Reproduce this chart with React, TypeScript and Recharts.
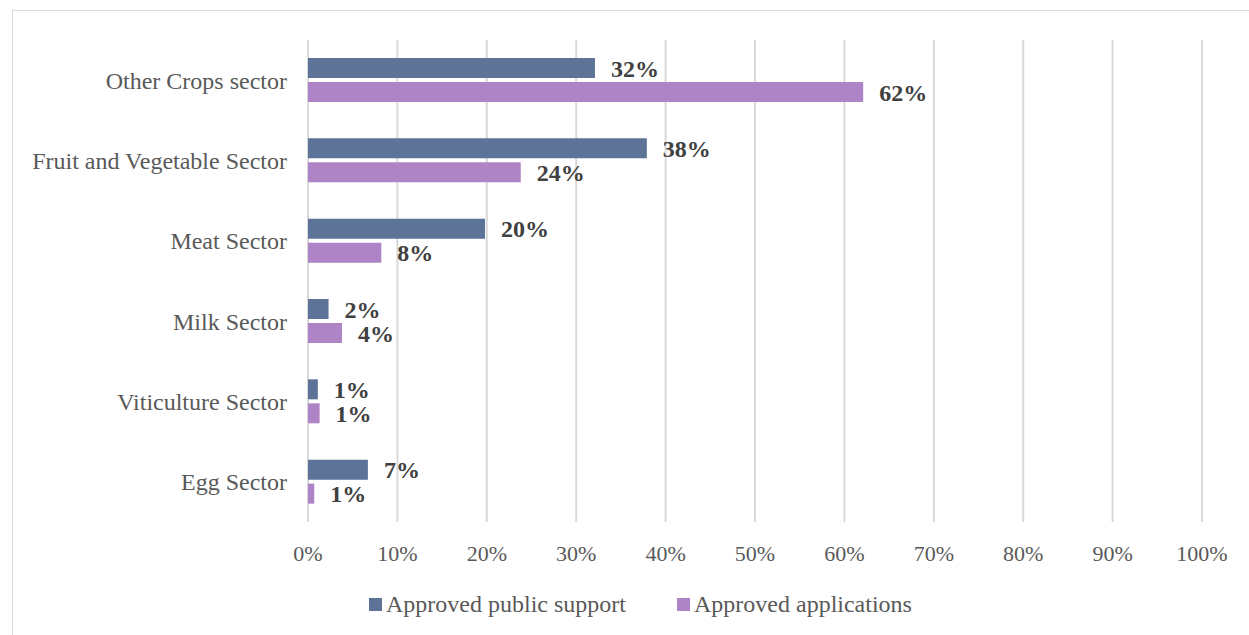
import { BarChart, Bar, XAxis, YAxis, CartesianGrid, Legend, LabelList } from "recharts";

const sectors = [
  "Other Crops sector",
  "Fruit and Vegetable Sector",
  "Meat Sector",
  "Milk Sector",
  "Viticulture Sector",
  "Egg Sector",
];
const publicSupport = [32.1, 37.9, 19.8, 2.3, 1.1, 6.7];
const applications = [62.1, 23.8, 8.2, 3.8, 1.3, 0.7];
const xTicks = [0, 10, 20, 30, 40, 50, 60, 70, 80, 90, 100];

const SERIES = [
  { key: "support", name: "Approved public support", color: "#5E7398" },
  { key: "applications", name: "Approved applications", color: "#AF84C6" },
];

const FONT = '"Liberation Serif", "Times New Roman", serif';

const data = sectors.map((name, i) => ({
  name,
  support: publicSupport[i],
  applications: applications[i],
}));

const pct = (v: number) => `${Math.round(v)}%`;

function LegendBox() {
  return (
    <div
      style={{
        display: "flex",
        justifyContent: "center",
        alignItems: "center",
        height: 18,
        fontFamily: FONT,
        fontSize: 24,
        color: "#595959",
        gap: 51,
      }}
    >
      {SERIES.map((s) => (
        <div key={s.key} style={{ display: "flex", alignItems: "center", gap: 4 }}>
          <span style={{ width: 13, height: 13, background: s.color, display: "inline-block" }} />
          <span style={{ lineHeight: "18px" }}>{s.name}</span>
        </div>
      ))}
    </div>
  );
}

export default function App() {
  return (
    <div
      style={{
        position: "absolute",
        left: 0,
        top: 0,
        width: 1249,
        height: 635,
        overflow: "hidden",
        background: "#fff",
      }}
    >
      {/* chart frame, wider than the window like the source */}
      <div
        style={{
          position: "absolute",
          left: 12,
          top: 10,
          width: 1256,
          height: 640,
          border: "1px solid #D9D9D9",
        }}
      />
      <div style={{ position: "absolute", left: 0, top: 0 }}>
        <BarChart
          width={1281}
          height={635}
          data={data}
          layout="vertical"
          margin={{ top: 40, right: 79, left: 0, bottom: 0 }}
          barSize={20}
          barGap={4}
        >
          <CartesianGrid horizontal={false} stroke="#D9D9D9" strokeWidth={2} />
          <XAxis
            type="number"
            domain={[0, 100]}
            ticks={xTicks}
            tickFormatter={(v) => `${v}%`}
            axisLine={false}
            tickLine={false}
            tickSize={0}
            tickMargin={23}
            height={73}
            interval={0}
            tick={{ fontFamily: FONT, fontSize: 22, fill: "#595959" }}
          />
          <YAxis
            type="category"
            dataKey="name"
            width={308}
            axisLine={false}
            tickLine={false}
            tickSize={0}
            tickMargin={21}
            interval={0}
            tick={{ fontFamily: FONT, fontSize: 24, fill: "#595959" }}
          />
          <Legend
            verticalAlign="bottom"
            height={40}
            wrapperStyle={{ left: 0, width: 1281 }}
            content={() => <LegendBox />}
          />
          {SERIES.map((s) => (
            <Bar key={s.key} dataKey={s.key} name={s.name} fill={s.color} isAnimationActive={false}>
              <LabelList
                dataKey={s.key}
                position="right"
                offset={16}
                formatter={(v: number) => pct(v)}
                style={{ fontFamily: FONT, fontSize: 24, fontWeight: "bold", fill: "#404040" }}
              />
            </Bar>
          ))}
        </BarChart>
      </div>
    </div>
  );
}
